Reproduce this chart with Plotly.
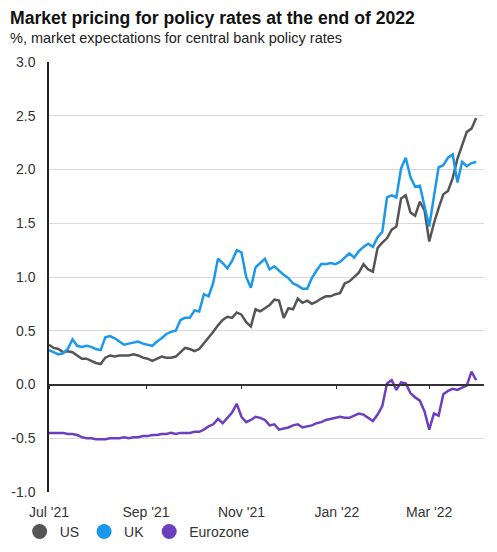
import plotly.graph_objects as go

dates = [
    "2021-07-01", "2021-07-04", "2021-07-07", "2021-07-10", "2021-07-13", "2021-07-16",
    "2021-07-19", "2021-07-22", "2021-07-25", "2021-07-28", "2021-07-31", "2021-08-03",
    "2021-08-06", "2021-08-09", "2021-08-12", "2021-08-15", "2021-08-18", "2021-08-21",
    "2021-08-24", "2021-08-27", "2021-08-30", "2021-09-02", "2021-09-05", "2021-09-08",
    "2021-09-11", "2021-09-14", "2021-09-17", "2021-09-20", "2021-09-23", "2021-09-26",
    "2021-09-29", "2021-10-02", "2021-10-05", "2021-10-08", "2021-10-11", "2021-10-14",
    "2021-10-17", "2021-10-20", "2021-10-23", "2021-10-26", "2021-10-29", "2021-11-01",
    "2021-11-04", "2021-11-07", "2021-11-10", "2021-11-13", "2021-11-16", "2021-11-19",
    "2021-11-22", "2021-11-25", "2021-11-28", "2021-12-01", "2021-12-04", "2021-12-07",
    "2021-12-10", "2021-12-13", "2021-12-16", "2021-12-19", "2021-12-22", "2021-12-25",
    "2021-12-28", "2021-12-31", "2022-01-03", "2022-01-06", "2022-01-09", "2022-01-12",
    "2022-01-15", "2022-01-18", "2022-01-21", "2022-01-24", "2022-01-27", "2022-01-30",
    "2022-02-02", "2022-02-05", "2022-02-08", "2022-02-11", "2022-02-14", "2022-02-17",
    "2022-02-20", "2022-02-23", "2022-02-26", "2022-03-01", "2022-03-04", "2022-03-07",
    "2022-03-10", "2022-03-13", "2022-03-16", "2022-03-19", "2022-03-22", "2022-03-25",
    "2022-03-28", "2022-03-31",
]

us = [
    0.37, 0.34, 0.33, 0.30, 0.31, 0.30, 0.27, 0.24, 0.24, 0.22, 0.20, 0.19,
    0.25, 0.27, 0.26, 0.27, 0.27, 0.27, 0.28, 0.27, 0.25, 0.24, 0.22, 0.24,
    0.26, 0.25, 0.25, 0.26, 0.30, 0.34, 0.33, 0.31, 0.33, 0.38, 0.44, 0.49,
    0.55, 0.60, 0.63, 0.62, 0.67, 0.65, 0.58, 0.54, 0.70, 0.68, 0.71, 0.74,
    0.79, 0.78, 0.62, 0.71, 0.70, 0.80, 0.76, 0.78, 0.75, 0.77, 0.80, 0.82,
    0.82, 0.84, 0.85, 0.94, 0.96, 1.00, 1.04, 1.12, 1.07, 1.05, 1.27, 1.32,
    1.36, 1.44, 1.47, 1.73, 1.76, 1.60, 1.57, 1.70, 1.62, 1.33, 1.50, 1.64,
    1.77, 1.80, 1.92, 2.10, 2.22, 2.35, 2.38, 2.48,
]

uk = [
    0.32, 0.30, 0.28, 0.29, 0.33, 0.42, 0.36, 0.35, 0.36, 0.35, 0.33, 0.32,
    0.44, 0.45, 0.43, 0.40, 0.37, 0.38, 0.39, 0.40, 0.38, 0.37, 0.36, 0.40,
    0.43, 0.47, 0.49, 0.50, 0.60, 0.62, 0.62, 0.69, 0.68, 0.84, 0.82, 0.95,
    1.17, 1.13, 1.08, 1.15, 1.25, 1.23, 1.00, 0.90, 1.09, 1.13, 1.17, 1.07,
    1.10, 1.06, 1.02, 0.99, 0.94, 0.92, 0.89, 0.89, 0.99, 1.06, 1.12, 1.12,
    1.13, 1.12, 1.14, 1.18, 1.22, 1.18, 1.24, 1.28, 1.31, 1.28, 1.37, 1.42,
    1.74, 1.76, 1.74, 2.01, 2.11, 1.93, 1.84, 1.85, 1.66, 1.47, 1.75, 2.02,
    2.04, 2.11, 2.14, 1.88, 2.07, 2.03, 2.06, 2.07,
]

eurozone = [
    -0.45, -0.45, -0.45, -0.45, -0.46, -0.46, -0.47, -0.49, -0.50, -0.50, -0.51, -0.51,
    -0.51, -0.50, -0.50, -0.50, -0.49, -0.50, -0.49, -0.49, -0.48, -0.48, -0.47, -0.47,
    -0.46, -0.46, -0.45, -0.46, -0.45, -0.45, -0.45, -0.44, -0.44, -0.42, -0.39, -0.37,
    -0.32, -0.36, -0.31, -0.26, -0.18, -0.30, -0.35, -0.33, -0.30, -0.31, -0.33, -0.38,
    -0.37, -0.42, -0.41, -0.40, -0.38, -0.37, -0.40, -0.39, -0.38, -0.36, -0.35, -0.33,
    -0.32, -0.31, -0.30, -0.31, -0.31, -0.29, -0.27, -0.28, -0.31, -0.34, -0.28, -0.20,
    0.01, 0.04, -0.05, 0.02, 0.01, -0.08, -0.12, -0.15, -0.25, -0.42, -0.27, -0.29,
    -0.09, -0.06, -0.04, -0.05, -0.03, -0.01, 0.12, 0.04,
]

series_names = ["US", "UK", "Eurozone"]
series_values = [us, uk, eurozone]
colors = ["#555555", "#1a98ea", "#6c3fbf"]

tick_vals = ["2021-07-01", "2021-09-01", "2021-11-01", "2022-01-01", "2022-03-01"]
tick_text = ["Jul '21", "Sep '21", "Nov '21", "Jan '22", "Mar '22"]
y_ticks = [3.0, 2.5, 2.0, 1.5, 1.0, 0.5, 0.0, -0.5, -1.0]

FONT = "Liberation Sans, Arial, sans-serif"
x_range = ["2021-07-01", "2022-04-05"]

fig = go.Figure()
for name, vals, col in zip(series_names, series_values, colors):
    fig.add_trace(go.Scatter(
        x=dates, y=vals, mode="lines", name=name,
        line=dict(color=col, width=2.5), showlegend=False,
    ))
# legend entries as circles
for name, col in zip(series_names, colors):
    fig.add_trace(go.Scatter(
        x=[None], y=[None], mode="markers", name=name,
        marker=dict(color=col, size=15, symbol="circle"), showlegend=True,
    ))
# carrier for the zero-line axis
fig.add_trace(go.Scatter(x=[x_range[0]], y=[None], xaxis="x2", mode="lines",
                         showlegend=False, hoverinfo="skip"))

fig.update_layout(
    width=497, height=552,
    margin=dict(l=41, r=21, t=54, b=68, autoexpand=False),
    paper_bgcolor="white", plot_bgcolor="white",
    font=dict(family=FONT, size=14, color="#333333"),
    xaxis=dict(
        range=x_range, type="date",
        tickmode="array", tickvals=tick_vals, ticktext=tick_text,
        showgrid=False, showline=False, ticks="", zeroline=False,
        tickfont=dict(size=14, color="#333333"), ticklabelstandoff=10,
        automargin=False,
    ),
    xaxis2=dict(
        range=x_range, type="date", overlaying="x", anchor="free", position=0.25,
        tickmode="array", tickvals=tick_vals, showticklabels=False,
        showgrid=False, showline=True, linecolor="#333333", linewidth=1.5,
        ticks="outside", ticklen=4, tickcolor="#333333", tickwidth=1,
        zeroline=False,
    ),
    yaxis=dict(
        range=[-1.0, 3.0], tickmode="array", tickvals=y_ticks,
        ticktext=[f"{v:.1f}" for v in y_ticks],
        showgrid=True, gridcolor="#d9d9d9", gridwidth=1,
        showline=True, linecolor="#222222", linewidth=1.5,
        zeroline=False, ticks="", ticklabelstandoff=9,
        tickfont=dict(size=14, color="#333333"), automargin=False,
    ),
    legend=dict(
        orientation="h", x=-0.0675, xanchor="left", y=-0.0557, yanchor="top",
        font=dict(size=14, color="#333333"), itemsizing="trace",
        bgcolor="rgba(0,0,0,0)",
    ),
    annotations=[
        dict(text="<b>Market pricing for policy rates at the end of 2022</b>",
             xref="paper", yref="paper", x=-41/435, y=1 + 44/430,
             xanchor="left", yanchor="middle", showarrow=False,
             font=dict(size=17.6, color="#111111", family=FONT)),
        dict(text="%, market expectations for central bank policy rates",
             xref="paper", yref="paper", x=-41/435, y=1 + 24/430,
             xanchor="left", yanchor="middle", showarrow=False,
             font=dict(size=14.5, color="#222222", family=FONT)),
    ],
)

fig.write_html("out.html")
